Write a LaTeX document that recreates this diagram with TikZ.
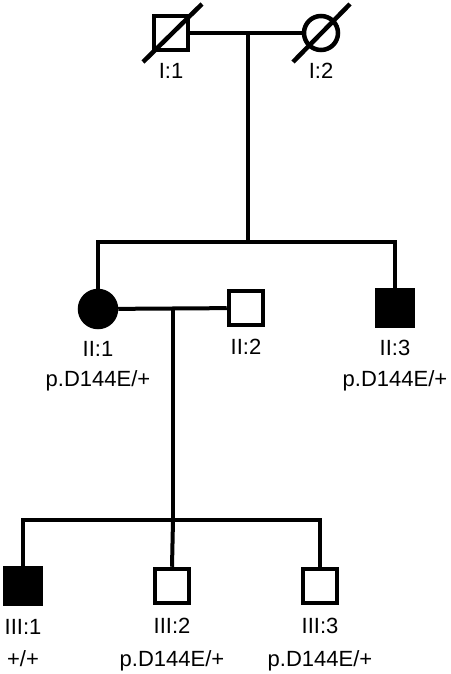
\documentclass[tikz,border=0pt]{standalone}
\usepackage{fontspec}
\setmainfont{Liberation Sans}
\usetikzlibrary{positioning}

\begin{document}
\begin{tikzpicture}[
      x=1pt, y=-1pt,
      male/.style={draw, line width=4.5pt, rectangle, minimum size=34pt, inner sep=0pt},
      female/.style={draw, line width=4.5pt, circle, minimum size=34pt, inner sep=0pt},
      affected/.style={fill=black, minimum size=36pt},
      lbl/.style={inner sep=0pt, font=\fontsize{22}{26}\selectfont},
      line/.style={line width=4pt},
      dead/.style={line width=4.5pt}
    ]
    \useasboundingbox (0,0) rectangle (450,674);
    % generation I
    \node[male]   (i1) at (171,33) {};
    \node[female] (i2) at (321,33) {};
    \node[lbl, below=11pt of i1] (i1l) {I:1};
    \node[lbl, below=11pt of i2] (i2l) {I:2};
    \draw[dead] ([shift={(-28,29)}]i1.center) -- ([shift={(31,-29)}]i1.center);
    \draw[dead] ([shift={(-28,29)}]i2.center) -- ([shift={(29,-29)}]i2.center);
    % generation II
    \node[female, affected] (ii1) at (98,309) {};
    \node[male]             (ii2) at (246,308) {};
    \node[male, affected]   (ii3) at (395,308) {};
    \node[lbl, below=12pt of ii1] (ii1l) {II:1};
    \node[lbl, below=12pt of ii2] (ii2l) {II:2};
    \node[lbl, below=12pt of ii3] (ii3l) {II:3};
    \node[lbl, below=14pt of ii1l] (ii1g) {p.D144E/+};
    \node[lbl, below=14pt of ii3l] (ii3g) {p.D144E/+};
    % generation III
    \node[male, affected] (iii1) at (23,586) {};
    \node[male]           (iii2) at (172,586) {};
    \node[male]           (iii3) at (320,586) {};
    \node[lbl, below=13pt of iii1] (iii1l) {III:1};
    \node[lbl, below=13pt of iii2] (iii2l) {III:2};
    \node[lbl, below=13pt of iii3] (iii3l) {III:3};
    \node[lbl, below=16pt of iii1l] (iii1g) {+/+};
    \node[lbl, below=16pt of iii2l] (iii2g) {p.D144E/+};
    \node[lbl, below=16pt of iii3l] (iii3g) {p.D144E/+};
    % couples and sibships
    \coordinate (m1)  at (248,33);
    \coordinate (s2)  at (248,242);
    \coordinate (m2)  at (173,309);
    \coordinate (s3)  at (173,520);
    \draw[line] (i1) -- (i2);
    \draw[line] (m1) -- (s2);
    \draw[line] (ii1.north) |- (s2) -| (ii3.north);
    \draw[line] (ii1) -- (ii2);
    \draw[line] (m2) -- (s3);
    \draw[line] (iii1.north) |- (s3) -| (iii3.north);
    \draw[line] (s3) -- (iii2.north);
  \end{tikzpicture}
\end{document}
